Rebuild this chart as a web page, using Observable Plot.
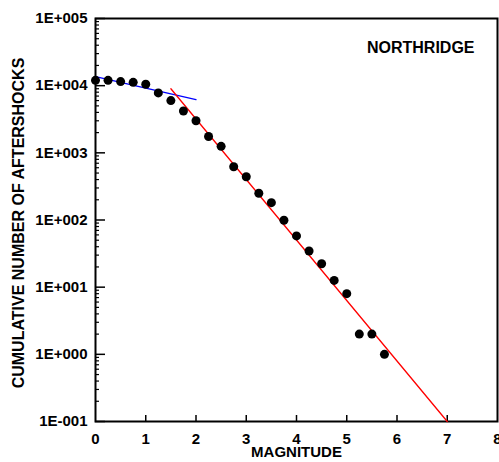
<!DOCTYPE html>
<html>
<head>
<meta charset="utf-8">
<script src="https://cdn.jsdelivr.net/npm/d3@7"></script>
<script src="https://cdn.jsdelivr.net/npm/@observablehq/plot@0.6"></script>
<style>
  html, body { margin: 0; padding: 0; background: white; }
</style>
</head>
<body>
<div id="chart"></div>
<script>
// Observed aftershock counts
const mags = [0, 0.25, 0.5, 0.75, 1.0, 1.25, 1.5, 1.75, 2.0, 2.25, 2.5, 2.75, 3.0, 3.25, 3.5, 3.75, 4.0, 4.25, 4.5, 4.75, 5.0, 5.25, 5.5, 5.75];
const counts = [12000, 12000, 11500, 11200, 10500, 7800, 6000, 4200, 3000, 1750, 1250, 620, 440, 250, 181, 99, 58, 34.5, 22.3, 12.6, 8.0, 2.0, 2.0, 1.0];

// Fitted lines
const lowFitMag = [0, 2];
const lowFitCount = [13600, 6200];
const highFitMag = [1.5, 7];
const highFitCount = [9000, 0.1];

// Axis ticks and labels
const xTicks = [0, 1, 2, 3, 4, 5, 6, 7, 8];
const yMajor = [0.1, 1, 10, 100, 1000, 10000, 100000];
const yLabels = ["1E-001", "1E+000", "1E+001", "1E+002", "1E+003", "1E+004", "1E+005"];
const yMinor = yMajor.slice(0, -1).flatMap(v => [2, 3, 4, 5, 6, 7, 8, 9].map(k => v * k));

const title = "NORTHRIDGE";
const xTitle = "MAGNITUDE";
const yTitle = "CUMULATIVE NUMBER OF AFTERSHOCKS";

const font = "'Liberation Sans', Arial, Helvetica, sans-serif";

const chart = Plot.plot({
  width: 499,
  height: 462,
  marginLeft: 95,
  marginRight: 2,
  marginTop: 18,
  marginBottom: 41,
  x: {domain: [0, 8], label: null},
  y: {type: "log", domain: [0.1, 100000], label: null},
  style: {fontFamily: font, fontWeight: "bold", fontSize: "14px", color: "black", background: "white", overflow: "visible"},
  marks: [
    Plot.axisY(yMinor, {tickSize: 4, dx: 4, text: null, label: null, strokeWidth: 1.2}),
    Plot.axisY(yMajor, {tickSize: 10, dx: 10, text: null, label: null, strokeWidth: 1.5}),
    Plot.axisX(xTicks.slice(1, -1), {tickSize: 6, dy: -6, text: null, label: null, strokeWidth: 1.5}),
    Plot.text(yMajor, {y: d => d, text: d => yLabels[yMajor.indexOf(d)], frameAnchor: "left", dx: -8, textAnchor: "end", fontSize: 15, fontWeight: "bold"}),
    Plot.text(xTicks, {x: d => d, text: d => String(d), frameAnchor: "bottom", dy: 12, lineAnchor: "top", textAnchor: "middle", fontSize: 15, fontWeight: "bold"}),
    Plot.frame({strokeWidth: 2}),
    Plot.line(lowFitMag, {x: d => d, y: (d, i) => lowFitCount[i], stroke: "blue", strokeWidth: 1.3}),
    Plot.line(highFitMag, {x: d => d, y: (d, i) => highFitCount[i], stroke: "red", strokeWidth: 1.3}),
    Plot.dot(mags, {x: d => d, y: (d, i) => counts[i], r: 4.5, fill: "black", stroke: null}),
    Plot.text([title], {frameAnchor: "top-right", dx: -23, dy: 23, fontSize: 16, fontWeight: "bold", textAnchor: "end"}),
    Plot.text([xTitle], {frameAnchor: "bottom", dy: 35.5, fontSize: 15, fontWeight: "bold", textAnchor: "middle"}),
    Plot.text([yTitle], {frameAnchor: "left", dx: -77, dy: 3, rotate: -90, fontSize: 16, fontWeight: "bold", textAnchor: "middle"})
  ]
});

document.getElementById("chart").appendChild(chart);
</script>
</body>
</html>
